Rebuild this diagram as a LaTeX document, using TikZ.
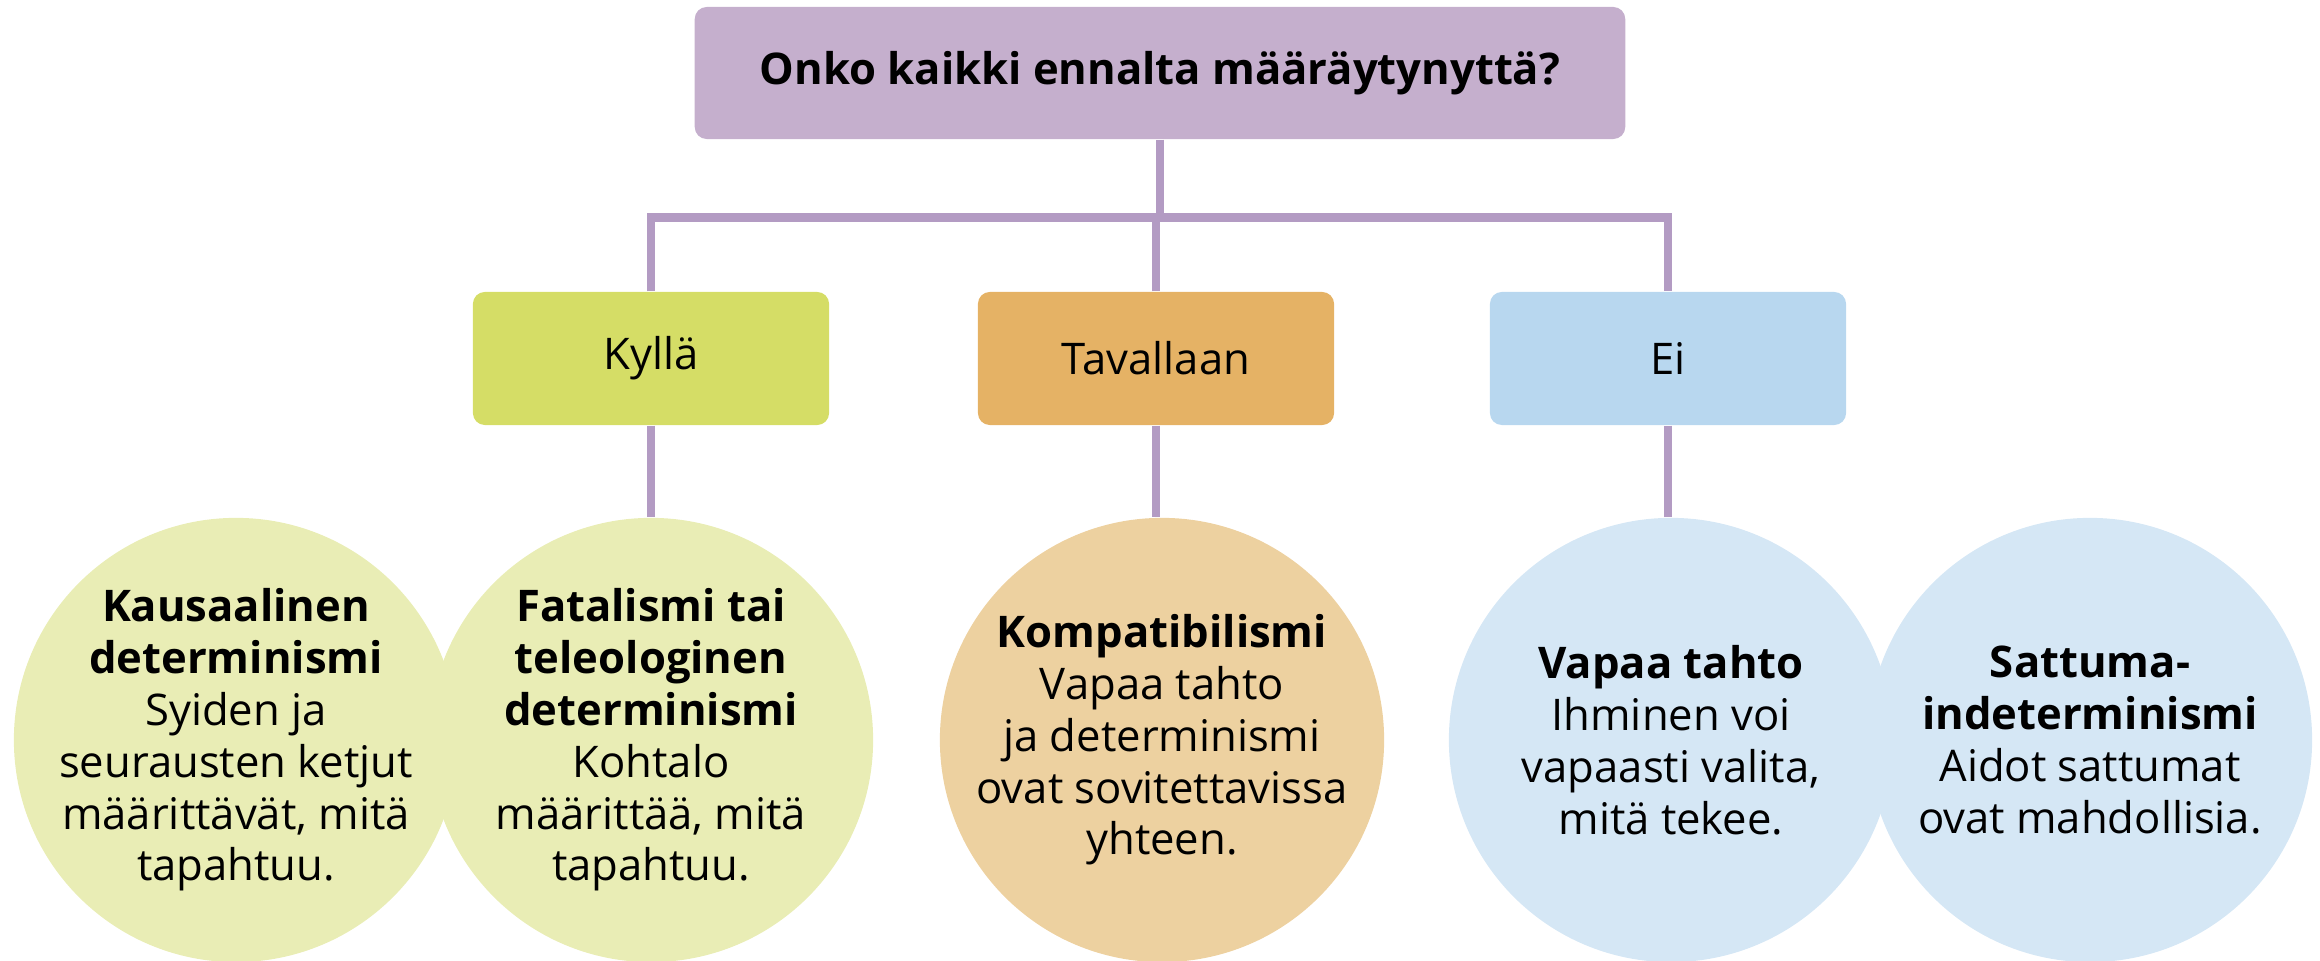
\documentclass[tikz,border=0pt]{standalone}
\usepackage{fontspec}
\setmainfont{Open Sans}
\definecolor{titlefill}{HTML}{C5AFCD}
\definecolor{linecol}{HTML}{B39BC3}
\definecolor{yesfill}{HTML}{D5DD66}
\definecolor{partfill}{HTML}{E5B265}
\definecolor{nofill}{HTML}{B8D7EF}
\definecolor{yescirc}{HTML}{E9EDB5}
\definecolor{partcirc}{HTML}{EDD1A0}
\definecolor{nocirc}{HTML}{D5E7F5}
\begin{document}
\begin{tikzpicture}[x=0.01cm,y=-0.01cm,
  every node/.style={font=\fontsize{12.4pt}{14.74pt}\selectfont, text=black},
  box/.style={rectangle, rounded corners=0.12cm, minimum width=3.56cm, minimum height=1.33cm, inner sep=0pt},
  circ/.style={circle, minimum size=4.44cm, inner sep=0pt},
  txt/.style={align=center, inner sep=0pt},
  conn/.style={draw=linecol, line width=0.085cm}]
\useasboundingbox (0,0) rectangle (2320,961);
% circles
\node[circ, fill=yescirc] (c1) at (236,740) {};
\node[circ, fill=yescirc] (c2) at (651,740) {};
\node[circ, fill=partcirc] (c3) at (1162,740) {};
\node[circ, fill=nocirc] (c4) at (1671,740) {};
\node[circ, fill=nocirc] (c5) at (2090,740) {};
% boxes
\node[box, fill=titlefill, minimum width=9.30cm, minimum height=1.32cm] (title) at (1160,73) {\textbf{Onko kaikki ennalta määräytynyttä?}};
\node[box, fill=yesfill] (kylla) at (651,358.5) {Kyllä};
\node[box, fill=partfill] (tav) at (1156,358.5) {Tavallaan};
\node[box, fill=nofill] (ei) at (1668,358.5) {Ei};
\coordinate (bar) at (0,217.5);
% connectors
\draw[conn] (title.south) -- (title.south |- bar);
\draw[conn] (kylla.north) -- (kylla.north |- bar) -- (ei.north |- bar) -- (ei.north);
\draw[conn] (tav.north) -- (tav.north |- bar);
\draw[conn] (kylla.south) -- (kylla.south |- c2.north);
\draw[conn] (tav.south) -- (tav.south |- c3.north);
\draw[conn] (ei.south) -- (ei.south |- c4.north);
% texts
\node[txt] (t1) at (c1) {\textbf{Kausaalinen}\\\textbf{determinismi}\\Syiden ja\\seurausten ketjut\\määrittävät, mitä\\tapahtuu.};
\node[txt] (t2) at (c2) {\textbf{Fatalismi tai}\\\textbf{teleologinen}\\\textbf{determinismi}\\Kohtalo\\määrittää, mitä\\tapahtuu.};
\node[txt] (t3) at (c3) {\textbf{Kompatibilismi}\\Vapaa tahto\\ja determinismi\\ovat sovitettavissa\\yhteen.};
\node[txt] (t4) at (c4) {\textbf{Vapaa tahto}\\Ihminen voi\\vapaasti valita,\\mitä tekee.};
\node[txt] (t5) at (c5) {\textbf{Sattuma-}\\\textbf{indeterminismi}\\Aidot sattumat\\ovat mahdollisia.};
\end{tikzpicture}
\end{document}
